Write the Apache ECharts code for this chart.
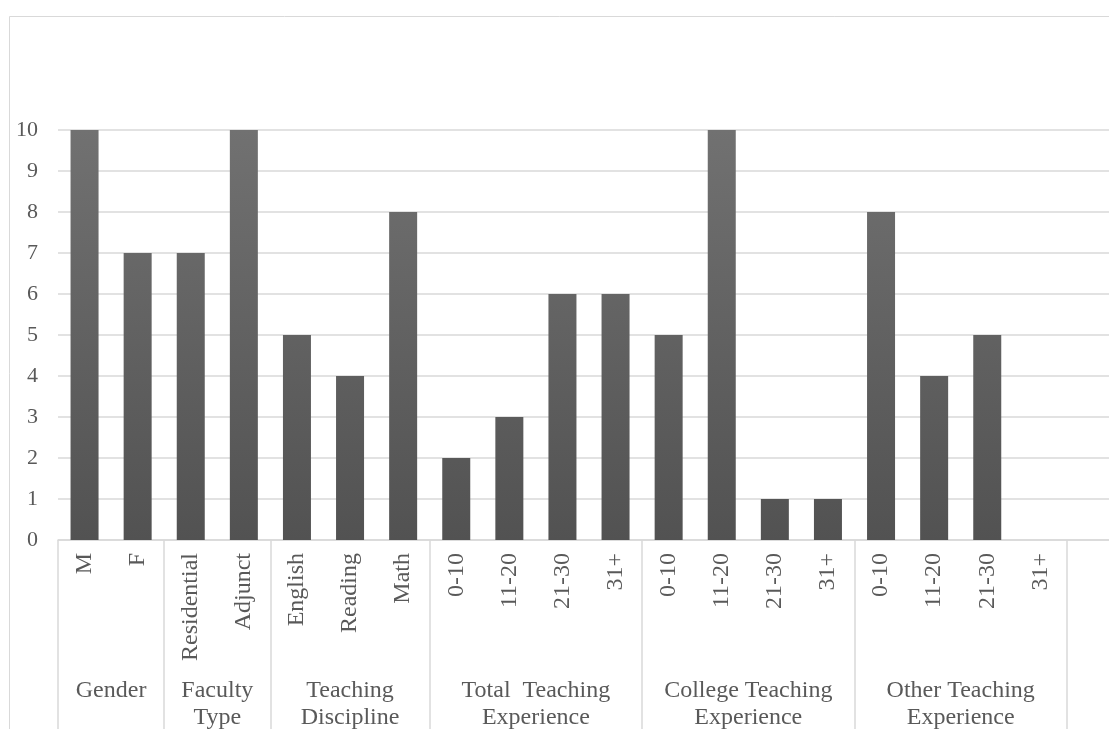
<!DOCTYPE html>
<html>
<head>
<meta charset="utf-8">
<script src="https://cdn.jsdelivr.net/npm/echarts@6/dist/echarts.min.js"></script>
<style>
html,body{margin:0;padding:0;background:#fff;}
#chart{width:1109px;height:729px;}
</style>
</head>
<body>
<div id="chart"></div>
<script>
// Data
var categories = ['M','F','Residential','Adjunct','English','Reading','Math',
  '0-10','11-20','21-30','31+','0-10','11-20','21-30','31+','0-10','11-20','21-30','31+',''];
var values = [10,7,7,10,5,4,8,2,3,6,6,5,10,1,1,8,4,5,0,null];
var groupNames = ['Gender','Faculty\nType','Teaching\nDiscipline','Total  Teaching\nExperience','College Teaching\nExperience','Other Teaching\nExperience'];
var groupSizes = [2,2,3,4,4,4];
var yTicks = [0,1,2,3,4,5,6,7,8,9,10];

var boundaries = [];
(function(){ var s=0; boundaries.push(0); groupSizes.forEach(function(g){ s+=g; boundaries.push(s); }); })();

var FONT = '"Liberation Serif","Times New Roman",serif';
var TXT = '#595959';
var GRID_TOP = 130, GRID_H = 410;
var chart = echarts.init(document.getElementById('chart'));
chart.setOption({
  animation:false,
  backgroundColor:'#fff',
  grid:{left:58, top:GRID_TOP, width:1062, height:GRID_H, containLabel:false, outerBoundsMode:'none'},
  xAxis:{
    type:'category', data:categories, boundaryGap:true,
    axisLine:{show:true, lineStyle:{color:'#d9d9d9', width:1.5}},
    axisTick:{show:true, length:200, lineStyle:{color:'#d9d9d9', width:1.5},
      interval:function(i){ return boundaries.indexOf(i) >= 0; }},
    axisLabel:{rotate:90, interval:0, margin:13, color:TXT, fontFamily:FONT, fontSize:24}
  },
  yAxis:{
    type:'value', min:yTicks[0], max:yTicks[yTicks.length-1], interval:1,
    axisLine:{show:false}, axisTick:{show:false},
    splitLine:{lineStyle:{color:'#d9d9d9', width:1.5}},
    axisLabel:{margin:20, color:TXT, fontFamily:FONT, fontSize:22}
  },
  series:[{
    type:'bar', data:values, barWidth:28,
    itemStyle:{
      color:new echarts.graphic.LinearGradient(0,GRID_TOP,0,GRID_TOP+GRID_H,[{offset:0,color:'#717171'},{offset:1,color:'#525252'}], true),
      shadowBlur:8, shadowColor:'rgba(0,0,0,0.45)', shadowOffsetX:0, shadowOffsetY:1
    }
  }]
});

// group labels positioned through the axis scale
var gfx = [{type:'rect', shape:{x:9.5,y:16.5,width:1200,height:800}, style:{fill:null, stroke:'#d9d9d9', lineWidth:1}, silent:true}];
for (var g=0; g<groupNames.length; g++){
  var a = chart.convertToPixel({xAxisIndex:0}, boundaries[g]);
  var b = chart.convertToPixel({xAxisIndex:0}, boundaries[g+1]-1);
  var cx = (a+b)/2;
  gfx.push({type:'text', x:cx, y:677, style:{text:groupNames[g], fill:TXT, font:'24px '+FONT, align:'center', verticalAlign:'top', lineHeight:27}, silent:true});
}
chart.setOption({graphic:gfx});
</script>
</body>
</html>
